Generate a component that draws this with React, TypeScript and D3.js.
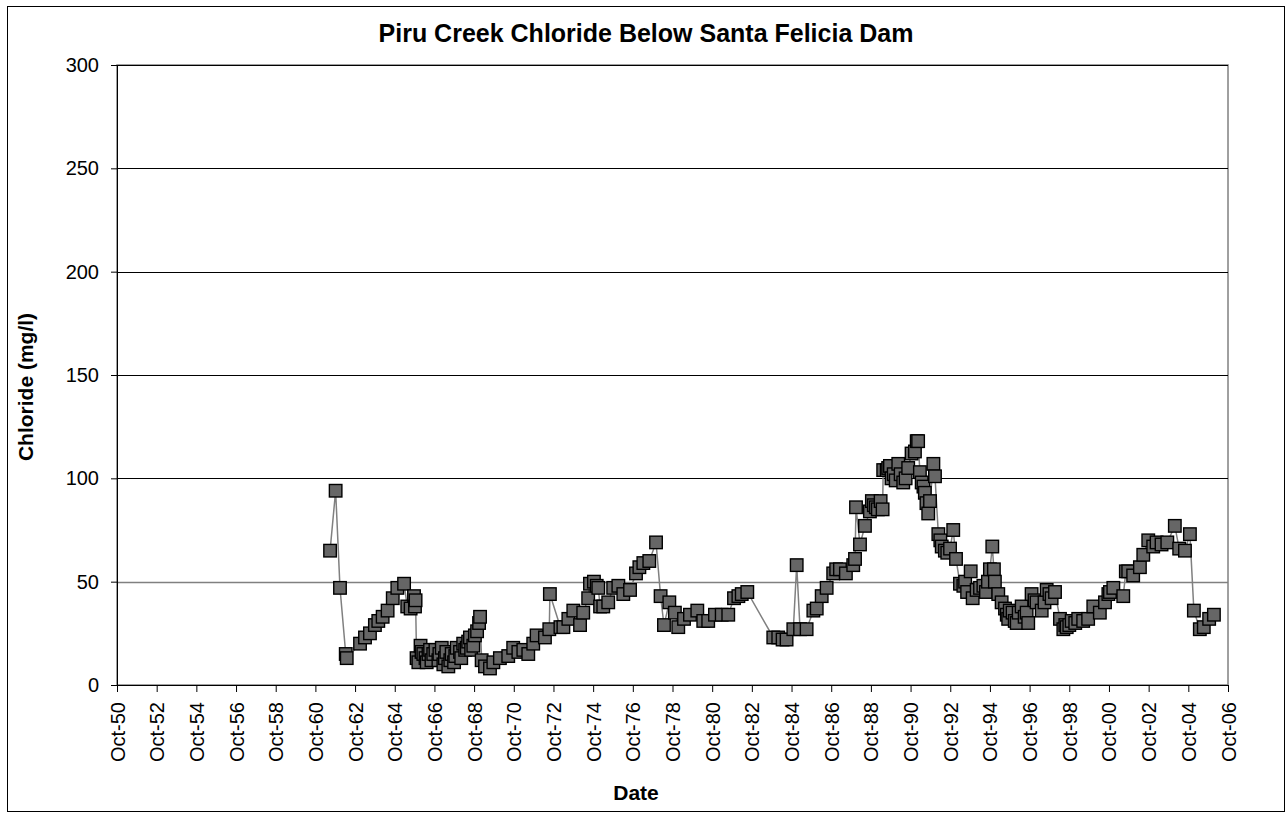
import React, { useEffect, useRef } from 'react'
import * as d3 from 'd3'

// sample date (decimal year) and chloride (mg/l), one list per decade
const samples1960s: [number, number][] = [
    [1961.49, 65], [1961.77, 94], [1961.99, 47], [1962.28, 15], [1962.33, 13],
    [1963.0, 20], [1963.25, 23], [1963.5, 25], [1963.75, 29], [1963.92, 31],
    [1964.14, 33], [1964.39, 36], [1964.65, 42], [1964.88, 47], [1965.22, 49],
    [1965.38, 38], [1965.55, 37], [1965.72, 43], [1965.77, 38], [1965.8, 41],
    [1965.85, 13], [1965.94, 11], [1966.05, 19], [1966.1, 16], [1966.19, 15],
    [1966.3, 13], [1966.36, 11], [1966.45, 15], [1966.53, 17], [1966.6, 12],
    [1966.69, 15], [1966.8, 17], [1966.95, 12], [1967.0, 15], [1967.12, 18],
    [1967.2, 10], [1967.28, 13], [1967.35, 16], [1967.45, 9], [1967.55, 12],
    [1967.62, 15], [1967.74, 11], [1967.8, 14], [1967.87, 18], [1968.04, 16],
    [1968.1, 13], [1968.2, 20], [1968.3, 17], [1968.38, 18], [1968.45, 21],
    [1968.54, 23], [1968.6, 17], [1968.71, 19], [1968.79, 24], [1968.9, 26],
    [1969.0, 30], [1969.05, 33], [1969.13, 12], [1969.3, 9], [1969.55, 8],
    [1969.72, 11]
]

const samples1970s: [number, number][] = [
    [1970.05, 13], [1970.47, 14], [1970.72, 18], [1970.98, 16], [1971.23, 17],
    [1971.48, 15], [1971.73, 20], [1971.9, 24], [1972.32, 23], [1972.54, 27],
    [1972.57, 44], [1973.1, 28], [1973.25, 28], [1973.5, 32], [1973.75, 36],
    [1974.09, 29], [1974.25, 35], [1974.5, 42], [1974.59, 49], [1974.79, 50],
    [1974.93, 48], [1975.01, 47], [1975.1, 38], [1975.26, 38], [1975.51, 40],
    [1975.76, 47], [1976.02, 48], [1976.27, 44], [1976.61, 46], [1976.91, 54],
    [1977.08, 57], [1977.28, 59], [1977.58, 60], [1977.92, 69], [1978.15, 43],
    [1978.32, 29], [1978.59, 40], [1978.87, 35], [1979.04, 28], [1979.33, 32],
    [1979.63, 34]
]

const samples1980s: [number, number][] = [
    [1980.0, 36], [1980.3, 31], [1980.55, 31], [1980.89, 34], [1981.23, 34],
    [1981.56, 34], [1981.85, 42], [1982.07, 43], [1982.24, 44], [1982.52, 45],
    [1983.83, 23], [1984.08, 23], [1984.3, 22], [1984.5, 22], [1984.84, 27],
    [1985.01, 58], [1985.18, 27], [1985.51, 27], [1985.85, 36], [1986.02, 37],
    [1986.27, 43], [1986.52, 47], [1986.85, 54], [1987.0, 56], [1987.19, 56],
    [1987.49, 54], [1987.86, 58], [1987.95, 61], [1988.0, 86], [1988.2, 68],
    [1988.45, 77], [1988.7, 84], [1988.8, 89], [1988.9, 87], [1989.0, 86],
    [1989.1, 85], [1989.24, 89], [1989.34, 85], [1989.37, 104], [1989.55, 104],
    [1989.62, 105], [1989.71, 106], [1989.79, 100], [1989.9, 102]
]

const samples1990s: [number, number][] = [
    [1990.0, 99], [1990.13, 107], [1990.25, 102], [1990.38, 98], [1990.5, 100],
    [1990.63, 105], [1990.8, 112], [1990.97, 113], [1991.06, 118], [1991.13, 118],
    [1991.22, 103], [1991.31, 98], [1991.4, 96], [1991.47, 93], [1991.55, 88],
    [1991.64, 83], [1991.73, 89], [1991.9, 107], [1991.98, 101], [1992.15, 73],
    [1992.25, 70], [1992.32, 67], [1992.48, 65], [1992.6, 64], [1992.74, 66],
    [1992.9, 75], [1993.04, 61], [1993.24, 49], [1993.41, 48], [1993.5, 50],
    [1993.6, 45], [1993.78, 55], [1993.88, 42], [1994.08, 46], [1994.25, 47],
    [1994.42, 48], [1994.55, 45], [1994.65, 50], [1994.75, 56], [1994.87, 67],
    [1994.95, 56], [1995.0, 50], [1995.17, 44], [1995.34, 40], [1995.51, 37],
    [1995.6, 34], [1995.67, 32], [1995.75, 36], [1995.89, 35], [1996.0, 31],
    [1996.1, 30], [1996.2, 35], [1996.35, 38], [1996.5, 33], [1996.6, 35],
    [1996.68, 30], [1996.85, 44], [1997.0, 41], [1997.1, 40], [1997.36, 36],
    [1997.5, 40], [1997.61, 46], [1997.75, 44], [1997.86, 42], [1998.03, 45],
    [1998.28, 32], [1998.45, 27], [1998.55, 29], [1998.62, 28], [1998.75, 29],
    [1998.87, 31], [1999.05, 30], [1999.2, 32], [1999.45, 31], [1999.7, 32],
    [1999.96, 38]
]

const samples2000s: [number, number][] = [
    [2000.29, 35], [2000.55, 40], [2000.72, 44], [2000.8, 45], [2000.97, 47],
    [2001.47, 43], [2001.6, 55], [2001.72, 55], [2001.97, 53], [2002.31, 57],
    [2002.48, 63], [2002.73, 70], [2002.98, 67], [2003.15, 69], [2003.4, 68],
    [2003.69, 69], [2004.07, 77], [2004.29, 66], [2004.58, 65], [2004.83, 73],
    [2005.03, 36], [2005.33, 27], [2005.53, 28], [2005.8, 32], [2006.04, 34]
]

const yTicks = [0, 50, 100, 150, 200, 250, 300]
// axis ticks fall on October of every other year
const xTickYears = [
    1950, 1952, 1954, 1956, 1958, 1960, 1962, 1964, 1966, 1968, 1970, 1972, 1974, 1976, 1978,
    1980, 1982, 1984, 1986, 1988, 1990, 1992, 1994, 1996, 1998, 2000, 2002, 2004, 2006
]

const WIDTH = 1286
const HEIGHT = 816
const FONT = '"Liberation Sans", Arial, sans-serif'
const plot = { left: 117, right: 1228, top: 65, bottom: 685 }

const App = () => {
    const svgRef = useRef<SVGSVGElement>(null)

    useEffect(() => {
        const svg = d3.select(svgRef.current)
        svg.selectAll('*').remove()

        const data = [...samples1960s, ...samples1970s, ...samples1980s, ...samples1990s, ...samples2000s]

        const x = d3.scaleLinear()
            .domain([xTickYears[0] + 0.75, xTickYears[xTickYears.length - 1] + 0.75])
            .range([plot.left, plot.right])
        const y = d3.scaleLinear()
            .domain([0, 300])
            .range([plot.bottom, plot.top])

        svg.append('rect')
            .attr('width', WIDTH)
            .attr('height', HEIGHT)
            .attr('fill', '#fff')

        // chart border
        svg.append('rect')
            .attr('x', 7.5)
            .attr('y', 6.5)
            .attr('width', 1277)
            .attr('height', 805)
            .attr('fill', 'none')
            .attr('stroke', '#000')
            .attr('stroke-width', 1)

        // plot area border
        svg.append('rect')
            .attr('x', plot.left)
            .attr('y', plot.top)
            .attr('width', plot.right - plot.left)
            .attr('height', plot.bottom - plot.top)
            .attr('fill', 'none')
            .attr('stroke', '#808080')
            .attr('stroke-width', 1.5)

        // gridlines
        svg.append('g')
            .selectAll('line')
            .data(yTicks.filter((t) => t > 0))
            .enter()
            .append('line')
            .attr('x1', plot.left)
            .attr('x2', plot.right)
            .attr('y1', (d) => Math.round(y(d)) + 0.5)
            .attr('y2', (d) => Math.round(y(d)) + 0.5)
            .attr('stroke', (d) => (d === 50 ? '#808080' : '#000'))
            .attr('stroke-width', (d) => (d === 50 ? 1.6 : 1))

        // Y Axis
        const yAxisGroup = svg.append('g')
            .attr('transform', `translate(${plot.left},0)`)
            .call(d3.axisLeft(y).tickValues(yTicks).tickSize(6).tickSizeOuter(0).tickPadding(12))
        yAxisGroup.select('.domain').attr('stroke', '#000')
        yAxisGroup.selectAll('line').attr('stroke', '#000')
        yAxisGroup.selectAll('text')
            .attr('font-family', FONT)
            .attr('font-size', 20)
            .attr('fill', '#000')

        // X Axis
        const xAxisGroup = svg.append('g')
            .attr('transform', `translate(0,${plot.bottom})`)
            .call(
                d3.axisBottom(x)
                    .tickValues(xTickYears.map((yr) => yr + 0.75))
                    .tickFormat((d) => `Oct-${String(Math.floor(+d) % 100).padStart(2, '0')}`)
                    .tickSize(7)
                    .tickSizeOuter(0)
            )
        xAxisGroup.select('.domain').attr('stroke', '#000').attr('stroke-width', 1.2)
        xAxisGroup.selectAll('line').attr('stroke', '#000')
        xAxisGroup.selectAll('text')
            .attr('font-family', FONT)
            .attr('font-size', 20)
            .attr('fill', '#000')
            .attr('transform', 'rotate(-90)')
            .attr('text-anchor', 'end')
            .attr('x', -17)
            .attr('y', 0)
            .attr('dy', '0.35em')

        // connecting line
        const line = d3.line<[number, number]>()
            .x((d) => x(d[0]))
            .y((d) => y(d[1]))
        svg.append('path')
            .datum(data)
            .attr('d', line)
            .attr('fill', 'none')
            .attr('stroke', '#808080')
            .attr('stroke-width', 1.5)

        // markers
        const size = 12.5
        svg.append('g')
            .selectAll('rect')
            .data(data)
            .enter()
            .append('rect')
            .attr('x', (d) => x(d[0]) - size / 2)
            .attr('y', (d) => y(d[1]) - size / 2)
            .attr('width', size)
            .attr('height', size)
            .attr('fill', '#666666')
            .attr('stroke', '#000')
            .attr('stroke-width', 1.4)

        // titles
        svg.append('text')
            .attr('x', 646)
            .attr('y', 42)
            .attr('text-anchor', 'middle')
            .attr('font-family', FONT)
            .attr('font-weight', 'bold')
            .attr('font-size', 25)
            .text('Piru Creek Chloride Below Santa Felicia Dam')

        svg.append('text')
            .attr('x', 636)
            .attr('y', 800)
            .attr('text-anchor', 'middle')
            .attr('font-family', FONT)
            .attr('font-weight', 'bold')
            .attr('font-size', 21)
            .text('Date')

        svg.append('text')
            .attr('transform', 'translate(33,387) rotate(-90)')
            .attr('text-anchor', 'middle')
            .attr('font-family', FONT)
            .attr('font-weight', 'bold')
            .attr('font-size', 21)
            .text('Chloride (mg/l)')
    }, [])

    return (
        <div style={{ position: 'absolute', left: 0, top: 0 }}>
            <svg ref={svgRef} width={WIDTH} height={HEIGHT} style={{ display: 'block' }} />
        </div>
    )
}

export default App
